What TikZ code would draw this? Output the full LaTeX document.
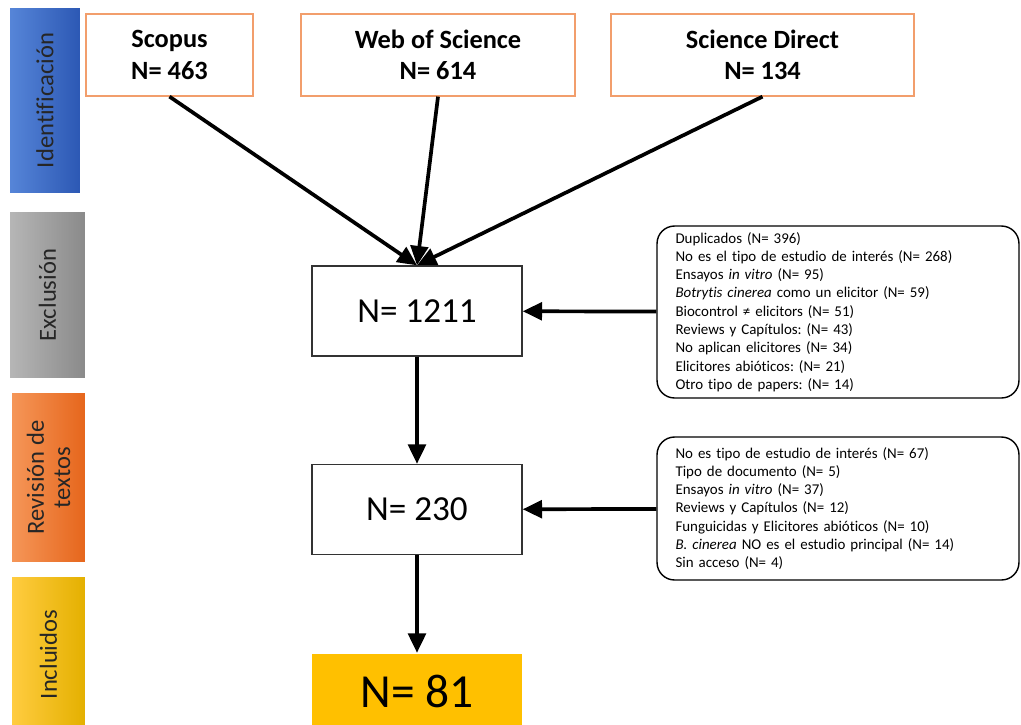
\documentclass[tikz,border=0pt]{standalone}
\usepackage{fontspec}
\setmainfont{Carlito}[Ligatures=NoCommon]
\usetikzlibrary{arrows.meta,positioning,calc}
\frenchspacing

\definecolor{identL}{RGB}{86,133,216}
\definecolor{identR}{RGB}{44,88,180}
\definecolor{exclL}{RGB}{182,182,182}
\definecolor{exclR}{RGB}{138,138,138}
\definecolor{revL}{RGB}{245,150,88}
\definecolor{revR}{RGB}{230,102,28}
\definecolor{inclL}{RGB}{255,204,64}
\definecolor{inclR}{RGB}{228,176,0}
\definecolor{srcline}{RGB}{242,158,108}
\definecolor{finalfill}{RGB}{255,192,0}

\begin{document}
\begin{tikzpicture}[x=0.02cm, y=-0.02cm, >={Triangle[length=11pt,width=10pt]},
  stagebar/.style={inner sep=0pt},
  stagetext/.style={rotate=90, align=center, font=\fontsize{14}{15}\selectfont, text=black!85},
  source/.style={draw=srcline, line width=0.7pt, minimum height=1.64cm, align=center,
    font=\bfseries\fontsize{15}{18}\selectfont},
  count/.style={draw=black!80, line width=0.8pt, minimum width=4.2cm, minimum height=1.8cm,
    font=\fontsize{20}{24}\selectfont},
  reasons/.style={draw, line width=0.8pt, rounded corners=0.35cm, minimum width=7.24cm,
    text width=6.5cm, align=left, font=\fontsize{8.5}{10.4}\selectfont},
  link/.style={->, line width=2.1pt}]
  \useasboundingbox (0,0) rectangle (1021,724);

  \node[stagebar, minimum width=1.4cm, minimum height=3.7cm, left color=identL, right color=identR] (ident) at (45,100.5) {};
  \node[stagetext] at (ident) {Identificación};
  \node[stagebar, minimum width=1.5cm, minimum height=3.32cm, left color=exclL, right color=exclR] (excl) at (47.5,295) {};
  \node[stagetext] at (excl) {Exclusión};
  \node[stagebar, minimum width=1.46cm, minimum height=3.38cm, left color=revL, right color=revR] (rev) at (48.5,477.5) {};
  \node[stagetext] at (rev) {Revisión de\\textos};
  \node[stagebar, minimum width=1.46cm, minimum height=3.1cm, left color=inclL, right color=inclR] (incl) at (48.5,654.5) {};
  \node[stagetext] at (incl) {Incluidos};

  \node[source, minimum width=3.34cm] (scopus) at (169.5,55) {Scopus\\N= 463};
  \node[source, minimum width=5.48cm] (wos) at (438,55) {Web of Science\\N= 614};
  \node[source, minimum width=6.06cm] (sd) at (762.5,55) {Science Direct\\N= 134};

  \node[count] (total) at (417,311) {N= 1211};
  \node[count] (screened) at (417,509.5) {N= 230};
  \node[count, draw=none, fill=finalfill, minimum height=1.5cm, font=\fontsize{27}{30}\selectfont] (included) at (417,691) {N= 81};

  \node[reasons, minimum height=3.44cm] (exclist) at (838,312) {Duplicados (N= 396)\\
    No es el tipo de estudio de interés (N= 268)\\
    Ensayos \textit{in vitro} (N= 95)\\
    \textit{Botrytis cinerea} como un elicitor (N= 59)\\
    Biocontrol ≠ elicitors (N= 51)\\
    Reviews y Capítulos: (N= 43)\\
    No aplican elicitores (N= 34)\\
    Elicitores abióticos: (N= 21)\\
    Otro tipo de papers: (N= 14)};
  \node[reasons, minimum height=2.86cm] (revlist) at (838,508.5) {No es tipo de estudio de interés (N= 67)\\
    Tipo de documento (N= 5)\\
    Ensayos \textit{in vitro} (N= 37)\\
    Reviews y Capítulos (N= 12)\\
    Funguicidas y Elicitores abióticos (N= 10)\\
    \textit{B. cinerea} NO es el estudio principal (N= 14)\\
    Sin acceso (N= 4)};

  \draw[link] (scopus.south) -- (total.north);
  \draw[link] (wos.south) -- (total.north);
  \draw[link] (sd.south) -- (total.north);
  \draw[link] (total) -- (screened);
  \draw[link] (screened) -- (included);
  \draw[link] (exclist) -- (total);
  \draw[link] (revlist) -- (screened);
\end{tikzpicture}
\end{document}
